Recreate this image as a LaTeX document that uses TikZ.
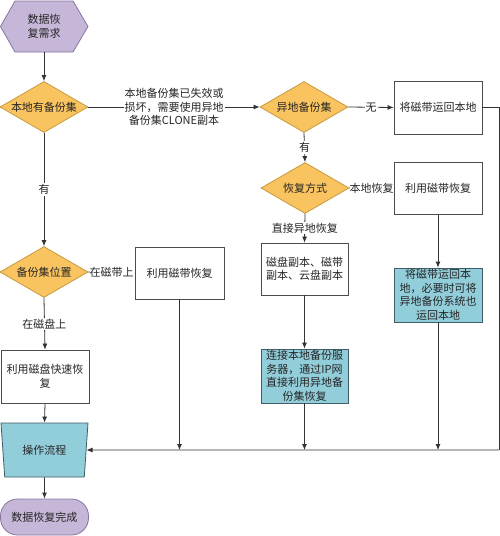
\documentclass[tikz,border=0pt]{standalone}
\usepackage{fontspec}
\setmainfont{Noto Sans CJK SC}
\usetikzlibrary{shapes.geometric,arrows.meta}
\definecolor{pfill}{HTML}{C6B7D9}
\definecolor{pdraw}{HTML}{86759F}
\definecolor{ofill}{HTML}{F9C35F}
\definecolor{odraw}{HTML}{C89A3E}
\definecolor{bfill}{HTML}{92CDDA}
\definecolor{bdraw}{HTML}{3F5E66}
\definecolor{ln}{HTML}{333333}
\tikzset{
  txt/.style={font=\fontsize{11}{13.5}\selectfont, text=black!85, align=center},
  dec/.style={txt, diamond, draw=odraw, fill=ofill, line width=0.8pt, inner sep=0pt, minimum width=88, minimum height=51, aspect=1.7},
  wbox/.style={txt, rectangle, draw=black!70, fill=white, line width=0.8pt, minimum width=88, minimum height=52, inner sep=1pt},
  bbox/.style={txt, rectangle, draw=bdraw, fill=bfill, line width=0.8pt, minimum width=88, minimum height=54, inner sep=1pt},
  conn/.style={draw=ln, line width=0.8pt},
  arr/.style={conn, -{Latex[length=6pt,width=5pt]}},
  lbl/.style={txt, fill=white, inner sep=1pt},
}
\begin{document}
\begin{tikzpicture}[x=1pt,y=-1pt]
\useasboundingbox[fill=white] (0,0) rectangle (500,536);
% start hexagon
\draw[draw=pdraw, fill=pfill, line width=0.8pt] (15,1) -- (73,1) -- (88,26.5) -- (73,52) -- (15,52) -- (0.5,26.5) -- cycle;
\node[txt, minimum width=88, minimum height=51, inner sep=0pt] (start) at (44,26.5) {数据恢\\复需求};
% decisions
\node[dec] (d1) at (44,107) {本地有备份集};
\node[dec] (d2) at (304,107) {异地备份集};
\node[dec] (d3) at (305,188) {恢复方式};
\node[dec] (d4) at (44,272) {备份集位置};
% boxes
\node[wbox, minimum height=53] (a) at (438,107.5) {将磁带运回本地};
\node[wbox] (b) at (438,188.5) {利用磁带恢复};
\node[wbox, minimum width=87] (c) at (304.5,269) {磁盘副本、磁带\\副本、云盘副本};
\node[bbox, minimum width=87] (d) at (304.5,376) {连接本地备份服\\务器，通过IP网\\直接利用异地备\\份集恢复};
\node[bbox] (e) at (438,295) {将磁带运回本\\地，必要时可将\\异地备份系统也\\运回本地};
\node[wbox, minimum width=89] (f) at (179.5,273) {利用磁带恢复};
\node[wbox, minimum height=53] (g) at (45,376.5) {利用磁盘快速恢\\复};
% operation flow
\node[txt, trapezium, trapezium angle=77.5, shape border rotate=180, trapezium stretches body,
      draw=bdraw, fill=bfill, line width=0.8pt, minimum width=87, minimum height=54] (t) at (44.5,450) {操作流程};
% end
\node[txt, rectangle, rounded corners=17pt, draw=pdraw, fill=pfill, line width=0.8pt,
      minimum width=88, minimum height=36] (end) at (44.5,517) {数据恢复完成};
% connectors
\draw[arr] (start.south) -- (d1.north);
\draw[arr] (d1.east) -- node[lbl, midway] {本地备份集已失效或\\损坏，需要使用异地\\备份集CLONE副本} (d2.west);
\draw[arr] (d2.east) -- node[lbl, midway] {无} (a.west);
\draw[arr] (d2.south) -- node[lbl, midway] {有} (d3.north);
\draw[arr] (d3.east) -- node[lbl, midway, inner sep=0pt] {本地恢复} (b.west);
\draw[arr] (d3.south) -- node[lbl, midway] {直接异地恢复} (c.north);
\draw[arr] (c.south) -- (d.north);
\draw[arr] (b.south) -- (e.north);
\draw[arr] (d1.south) -- node[lbl, midway] {有} (d4.north);
\draw[arr] (d4.east) -- node[lbl, midway, inner sep=0pt] {在磁带上} (f.west);
\draw[arr] (d4.south) -- node[lbl, midway] {在磁盘上} (g.north);
\draw[arr] (g.south) -- (t.north);
\draw[arr] (t.south) -- (end.north);
% merge line
\coordinate (rc) at (499,450);
\coordinate (jf) at (f.south |- rc);
\coordinate (jd) at (d.south |- rc);
\coordinate (je) at (e.south |- rc);
\draw[conn] (a.east) -| (rc);
\draw[arr] (rc) -- (t.east);
\draw[arr] (f.south) -- (jf);
\draw[arr] (d.south) -- (jd);
\draw[arr] (e.south) -- (je);
\end{tikzpicture}
\end{document}
